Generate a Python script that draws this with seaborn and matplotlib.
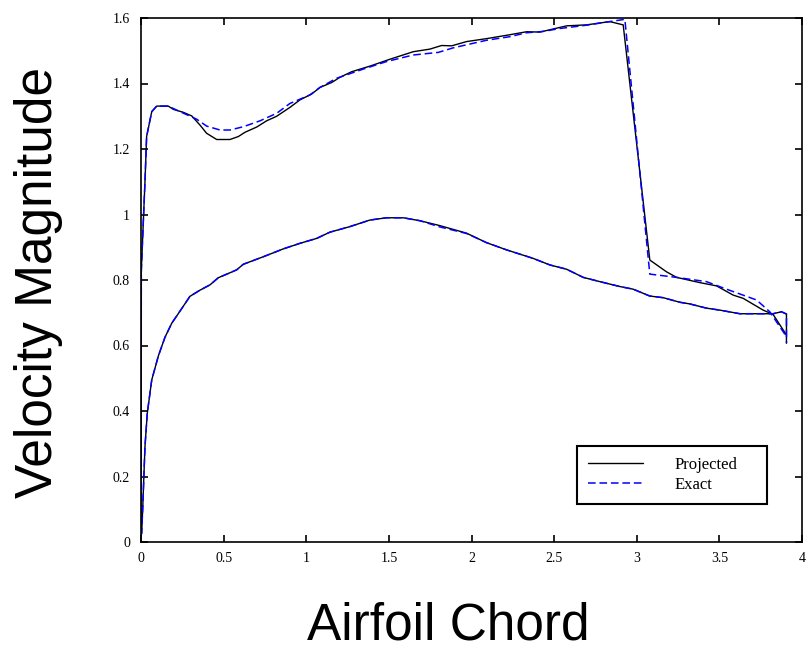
import matplotlib
matplotlib.use("Agg")
import matplotlib.pyplot as plt
from matplotlib.lines import Line2D
import seaborn as sns

# Upper surface, projected solution (leading edge -> trailing edge)
proj_upper_x = [0.0, 0.002, 0.024, 0.034, 0.065, 0.095, 0.165, 0.196, 0.256, 0.307,
                0.357, 0.397, 0.458, 0.538, 0.589, 0.629, 0.700, 0.760, 0.821, 0.901,
                0.962, 1.033, 1.083, 1.154, 1.204, 1.275, 1.385, 1.506, 1.647, 1.748,
                1.819, 1.880, 1.970, 2.091, 2.222, 2.333, 2.414, 2.575, 2.696, 2.837,
                2.918, 3.079, 3.180, 3.241, 3.382, 3.483, 3.583, 3.644, 3.765, 3.825,
                3.906]
proj_upper_y = [0.02, 0.83, 1.10, 1.238, 1.314, 1.331, 1.331, 1.321, 1.312, 1.301,
                1.273, 1.248, 1.229, 1.229, 1.238, 1.251, 1.267, 1.286, 1.300, 1.327,
                1.350, 1.368, 1.388, 1.403, 1.419, 1.436, 1.453, 1.474, 1.497, 1.505,
                1.516, 1.515, 1.528, 1.537, 1.548, 1.558, 1.557, 1.576, 1.579, 1.589,
                1.579, 0.861, 0.825, 0.808, 0.792, 0.782, 0.754, 0.744, 0.708, 0.695,
                0.632]

# Lower surface, projected solution (leading edge -> trailing edge)
proj_lower_x = [0.0, 0.004, 0.010, 0.024, 0.038, 0.065, 0.105, 0.145, 0.186, 0.236,
                0.296, 0.357, 0.417, 0.468, 0.538, 0.579, 0.619, 0.740, 0.861, 0.962,
                1.063, 1.143, 1.264, 1.385, 1.486, 1.587, 1.688, 1.809, 1.970, 2.091,
                2.212, 2.373, 2.474, 2.575, 2.676, 2.777, 2.898, 2.978, 3.079, 3.160,
                3.261, 3.321, 3.422, 3.503, 3.624, 3.825, 3.876, 3.906, 3.906]
proj_lower_y = [0.02, 0.027, 0.098, 0.291, 0.393, 0.495, 0.568, 0.625, 0.668, 0.705,
                0.750, 0.769, 0.785, 0.807, 0.822, 0.831, 0.848, 0.871, 0.895, 0.912,
                0.927, 0.946, 0.963, 0.983, 0.990, 0.990, 0.981, 0.966, 0.943, 0.914,
                0.892, 0.866, 0.846, 0.833, 0.808, 0.795, 0.780, 0.772, 0.751, 0.746,
                0.732, 0.727, 0.714, 0.708, 0.697, 0.697, 0.703, 0.696, 0.607]

# Upper surface, exact solution
exact_upper_x = [0.0, 0.002, 0.024, 0.034, 0.065, 0.095, 0.165, 0.236, 0.337, 0.397,
                 0.478, 0.538, 0.619, 0.720, 0.821, 0.901, 1.022, 1.083, 1.184, 1.345,
                 1.486, 1.647, 1.799, 1.890, 2.091, 2.232, 2.333, 2.434, 2.535, 2.696,
                 2.837, 2.928, 3.079, 3.241, 3.422, 3.543, 3.725, 3.805, 3.906]
exact_upper_y = [0.02, 0.83, 1.10, 1.238, 1.314, 1.331, 1.331, 1.314, 1.291, 1.270,
                 1.258, 1.258, 1.268, 1.286, 1.309, 1.339, 1.365, 1.388, 1.416, 1.444,
                 1.467, 1.487, 1.495, 1.509, 1.532, 1.543, 1.555, 1.559, 1.568, 1.578,
                 1.589, 1.596, 0.818, 0.808, 0.795, 0.772, 0.739, 0.703, 0.627]

# Lower surface, exact solution
exact_lower_x = [0.0, 0.004, 0.010, 0.024, 0.038, 0.065, 0.105, 0.145, 0.186, 0.236,
                 0.296, 0.357, 0.417, 0.468, 0.538, 0.579, 0.619, 0.740, 0.861, 0.962,
                 1.063, 1.143, 1.264, 1.385, 1.486, 1.587, 1.688, 1.809, 1.890, 1.970,
                 2.091, 2.212, 2.373, 2.474, 2.575, 2.676, 2.777, 2.898, 2.978, 3.079,
                 3.160, 3.261, 3.321, 3.422, 3.503, 3.624, 3.825, 3.876, 3.906, 3.906]
exact_lower_y = [0.02, 0.027, 0.098, 0.291, 0.393, 0.495, 0.568, 0.625, 0.668, 0.705,
                 0.750, 0.769, 0.785, 0.807, 0.822, 0.831, 0.848, 0.871, 0.895, 0.912,
                 0.927, 0.946, 0.963, 0.983, 0.990, 0.990, 0.981, 0.962, 0.952, 0.942,
                 0.914, 0.892, 0.866, 0.846, 0.833, 0.808, 0.795, 0.780, 0.772, 0.751,
                 0.746, 0.732, 0.727, 0.714, 0.708, 0.697, 0.697, 0.703, 0.696, 0.607]

x_ticks = [0, 0.5, 1, 1.5, 2, 2.5, 3, 3.5, 4]
x_tick_labels = ["0", "0.5", "1", "1.5", "2", "2.5", "3", "3.5", "4"]
y_ticks = [0, 0.2, 0.4, 0.6, 0.8, 1.0, 1.2, 1.4, 1.6]
y_tick_labels = ["0", "0.2", "0.4", "0.6", "0.8", "1", "1.2", "1.4", "1.6"]

series_labels = ["Projected", "Exact"]

sns.set_style("ticks")
plt.rcParams["font.family"] = ["Liberation Serif", "DejaVu Serif"]
plt.rcParams["text.color"] = "black"
plt.rcParams["axes.labelcolor"] = "black"

fig = plt.figure(figsize=(8.06, 6.5), dpi=100)
ax = fig.add_axes([141 / 806, 1 - 542 / 650, 661 / 806, 524 / 650])

solid_kw = dict(color="black", linewidth=1.0, sort=False, estimator=None, ax=ax)
dash_kw = dict(color="#0000ff", linewidth=1.1, linestyle=(0, (5, 2.5)),
               sort=False, estimator=None, ax=ax)

sns.lineplot(x=proj_upper_x, y=proj_upper_y, **solid_kw)
sns.lineplot(x=proj_lower_x, y=proj_lower_y, **solid_kw)
sns.lineplot(x=exact_upper_x, y=exact_upper_y, **dash_kw)
sns.lineplot(x=exact_lower_x, y=exact_lower_y, **dash_kw)

ax.set_xlim(0, 4)
ax.set_ylim(0, 1.6)
ax.set_xticks(x_ticks)
ax.set_xticklabels(x_tick_labels)
ax.set_yticks(y_ticks)
ax.set_yticklabels(y_tick_labels)
ax.tick_params(axis="both", which="major", direction="in", length=5, width=1.2,
               top=True, right=True, labelsize=10, colors="black")
ax.tick_params(axis="x", pad=7)
ax.tick_params(axis="y", pad=8)
for sp in ax.spines.values():
    sp.set_visible(True)
    sp.set_linewidth(1.2)
    sp.set_color("black")

ax.set_xlabel("Airfoil Chord", family=["Liberation Sans", "DejaVu Sans"],
              fontsize=37, va="baseline", color="black")
ax.xaxis.set_label_coords(0.4645, -0.187)
ax.set_ylabel("Velocity Magnitude", family=["Liberation Sans", "DejaVu Sans"],
              fontsize=37, va="baseline", color="black")
ax.yaxis.set_label_coords(-0.135, 0.496)

handles = [Line2D([], [], color="black", linewidth=1.0),
           Line2D([], [], color="#0000ff", linewidth=1.1, linestyle=(0, (5, 2.5)))]
leg = ax.legend(handles, series_labels, loc="lower left",
                bbox_to_anchor=(0.6596, 0.0725, 0.2875, 0.1145), mode="expand",
                fontsize=12, frameon=True, fancybox=False, borderpad=0.65,
                handlelength=3.3, handletextpad=1.9, labelspacing=0.25,
                borderaxespad=0.0)
frame = leg.get_frame()
frame.set_edgecolor("black")
frame.set_linewidth(1.5)
frame.set_alpha(1)

fig.savefig("out.png", dpi=100)
